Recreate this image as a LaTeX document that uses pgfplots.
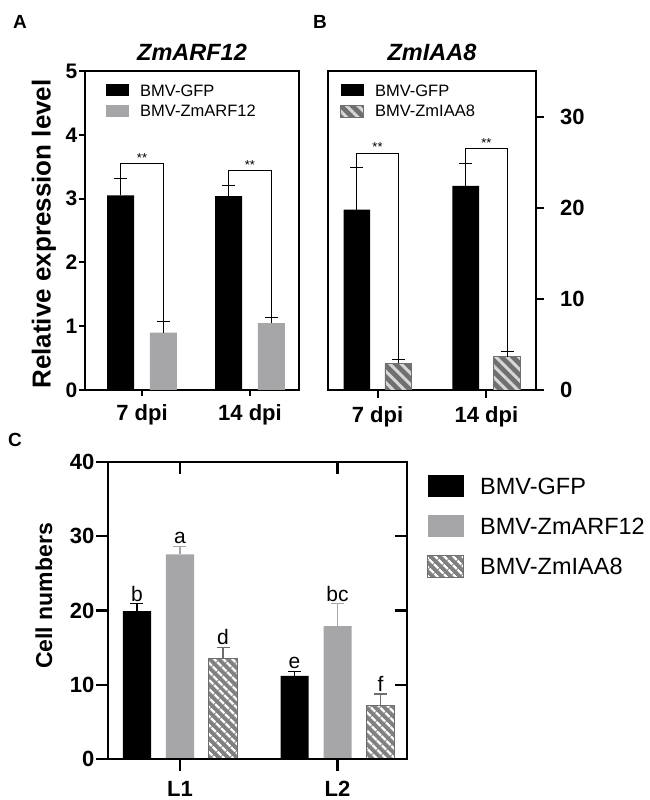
\documentclass[border=0pt]{standalone}
\usepackage{pgfplots}
\pgfplotsset{compat=1.18}
\usepackage{fontspec}
\setmainfont{Liberation Sans}
\usetikzlibrary{patterns.meta}
\definecolor{bargray}{RGB}{166,166,169}
\definecolor{hatchC}{RGB}{128,128,128}
\definecolor{hatchCedge}{RGB}{110,110,110}
\definecolor{hatchB}{RGB}{112,112,112}
\definecolor{stripeB}{RGB}{215,215,215}
\newcommand{\fs}[1]{\fontsize{#1}{#1}\selectfont}
\pgfplotsset{
  base/.style={
    scale only axis,
    axis line style={line width=2pt},
    every tick/.style={black,line width=2pt},
    tick align=outside,
    major tick length=6pt,
    ymin=0,
    xtick={0,1},
    /pgf/number format/assume math mode=true,
    ticklabel style={font=\fs{21}\bfseries},
    yticklabel style={inner xsep=1.5pt},
    legend cell align=left,
  },
  swA/.style={legend image code/.code={\fill[##1] (0pt,-6pt) rectangle (23pt,6pt);}},
  swC/.style={legend image code/.code={\fill[##1] (0pt,-11pt) rectangle (36pt,11pt);}},
  eb/.style={error bars/.cd, y dir=plus, y explicit, error mark=-,
    error bar style={draw=#1,line width=1.1pt},
    error mark options={draw=#1,line width=1.1pt,mark size=6.5pt,rotate=90}},
}
\begin{document}
\begin{tikzpicture}[x=1pt,y=1pt]
\useasboundingbox (0,0) rectangle (650,800);
% panel letters and titles
\node[font=\fs{19}\bfseries] at (20,778) {A};
\node[font=\fs{19}\bfseries] at (320,778) {B};
\node[font=\fs{19}\bfseries] at (15,360) {C};
\node[font=\fs{23.5}\bfseries\itshape] at (192,748) {ZmARF12};
\node[font=\fs{23.5}\bfseries\itshape] at (432,748) {ZmIAA8};
\node[font=\fs{26}\bfseries, rotate=90] at (44,566) {Relative expression level};
\node[font=\fs{23}\bfseries, rotate=90] at (44,204) {Cell numbers};

% ---------------- Panel A
\begin{axis}[base, at={(85pt,410pt)}, anchor=south west, width=214pt, height=319pt,
  xmin=-0.528, xmax=1.454, ymax=5, ytick={0,1,2,3,4,5},
  xtick pos=left, ytick pos=left,
  xticklabels={7 dpi,14 dpi}, xticklabel style={font=\fs{22}\bfseries, yshift=-5pt},
  legend style={at={(axis description cs:0.098,0.959)}, anchor=north west, draw=none, fill=none,
    inner sep=0pt, font=\fs{16.5}, row sep=8.5pt, nodes={inner sep=0pt, text depth=0pt},
    /tikz/every odd column/.append style={column sep=11pt}},
]
\addplot[ybar, bar width=0.25, bar shift=0pt, fill=black, draw=none, swA, eb=black]
  coordinates {(-0.197,3.05) +- (0,0.26) (0.803,3.04) +- (0,0.17)};
\addlegendentry{BMV-GFP}
\addplot[ybar, bar width=0.25, bar shift=0pt, fill=bargray, draw=none, swA, eb=black]
  coordinates {(0.197,0.90) +- (0,0.17) (1.197,1.05) +- (0,0.09)};
\addlegendentry{BMV-ZmARF12}
\addplot[black, line width=1pt, forget plot] coordinates {(-0.197,3.31) (-0.197,3.55) (0.197,3.55) (0.197,1.07)};
\addplot[black, line width=1pt, forget plot] coordinates {(0.803,3.21) (0.803,3.44) (1.197,3.44) (1.197,1.14)};
\node[font=\fs{13}, anchor=south, inner sep=1pt] at (axis cs:0,3.55) {**};
\node[font=\fs{13}, anchor=south, inner sep=1pt] at (axis cs:1,3.44) {**};
\end{axis}

% ---------------- Panel B
\begin{axis}[base, at={(328pt,410pt)}, anchor=south west, width=208pt, height=319pt,
  xmin=-0.455, xmax=1.455, ymax=35, ytick={0,10,20,30},
  xtick pos=left, ytick pos=right, yticklabel pos=right, major tick length=8pt,
  yticklabel style={inner xsep=0pt, xshift=16pt}, ticklabel style={font=\fs{22}\bfseries},
  xticklabels={7 dpi,14 dpi}, xticklabel style={yshift=-5pt},
  legend style={at={(axis description cs:0.058,0.959)}, anchor=north west, draw=none, fill=none,
    inner sep=0pt, font=\fs{16.5}, row sep=8.5pt, nodes={inner sep=0pt, text depth=0pt},
    /tikz/every odd column/.append style={column sep=11pt}},
]
\addplot[ybar, bar width=0.245, bar shift=0pt, fill=black, draw=none, swA, eb=black]
  coordinates {(-0.19,19.8) +- (0,4.6) (0.81,22.4) +- (0,2.45)};
\addlegendentry{BMV-GFP}
\addplot[ybar, bar width=0.245, bar shift=0pt, fill=hatchB, draw=hatchB, line width=0.8pt,
  postaction={pattern={Lines[angle=-45,distance=8pt,line width=3pt]}, pattern color=stripeB},
  swA, eb=black]
  coordinates {(0.19,2.92) +- (0,0.45) (1.19,3.65) +- (0,0.55)};
\addlegendentry{BMV-ZmIAA8}
\addplot[black, line width=1pt, forget plot] coordinates {(-0.19,24.4) (-0.19,26.0) (0.19,26.0) (0.19,3.37)};
\addplot[black, line width=1pt, forget plot] coordinates {(0.81,24.85) (0.81,26.45) (1.19,26.45) (1.19,4.2)};
\node[font=\fs{13}, anchor=south, inner sep=1pt] at (axis cs:0,26.0) {**};
\node[font=\fs{13}, anchor=south, inner sep=1pt] at (axis cs:1,26.45) {**};
\end{axis}

% ---------------- Panel C
\begin{axis}[base, at={(108pt,41pt)}, anchor=south west, width=299pt, height=297pt,
  axis line style={line width=2.4pt}, every tick/.style={black,line width=2.4pt}, major tick length=12pt,
  xmin=-0.457, xmax=1.441, ymax=40, ytick={0,10,20,30,40},
  xtick pos=left, ytick pos=left, xticklabels={L1,L2},
  ticklabel style={font=\fs{22}\bfseries}, xticklabel style={yshift=-7pt},
  legend style={at={(axis description cs:1.067,0.956)}, anchor=north west, draw=none, fill=none,
    inner sep=0pt, font=\fs{23.5}, row sep=18pt, nodes={inner sep=0pt, text depth=0pt},
    /tikz/every odd column/.append style={column sep=16pt}},
]
\addplot[ybar, bar width=0.178, bar shift=0pt, fill=black, draw=none, swC, eb=black]
  coordinates {(-0.273,19.9) +- (0,1.0) (0.727,11.2) +- (0,0.62)};
\addlegendentry{BMV-GFP}
\addplot[ybar, bar width=0.178, bar shift=0pt, fill=bargray, draw=none, swC, eb=bargray]
  coordinates {(0,27.55) +- (0,1.12) (1,17.9) +- (0,3.0)};
\addlegendentry{BMV-ZmARF12}
\addplot[ybar, bar width=0.178, bar shift=0pt, fill=hatchC, draw=hatchCedge, line width=1pt,
  postaction={pattern={Lines[angle=-45,distance=6.5pt,line width=2.4pt]}, pattern color=white},
  swC, eb=hatchCedge]
  coordinates {(0.273,13.57) +- (0,1.5) (1.273,7.2) +- (0,1.56)};
\addlegendentry{BMV-ZmIAA8}
\node[font=\fs{21}, anchor=south, inner sep=2pt] at (axis cs:-0.273,20.9) {b};
\node[font=\fs{21}, anchor=south, inner sep=2pt] at (axis cs:0,28.67) {a};
\node[font=\fs{21}, anchor=south, inner sep=2pt] at (axis cs:0.273,15.07) {d};
\node[font=\fs{21}, anchor=south, inner sep=2pt] at (axis cs:0.727,11.82) {e};
\node[font=\fs{21}, anchor=south, inner sep=2pt] at (axis cs:1,20.9) {bc};
\node[font=\fs{21}, anchor=south, inner sep=2pt] at (axis cs:1.273,8.76) {f};
\end{axis}
\begin{axis}[scale only axis, at={(108pt,41pt)}, anchor=south west, width=299pt, height=297pt,
  axis line style={line width=2.4pt}, every tick/.style={black,line width=2.4pt}, major tick length=12pt,
  tick align=inside, xmin=-0.457, xmax=1.441, ymin=0, ymax=40, xtick={0,1}, ytick={10,20,30},
  xtick pos=right, ytick pos=right, xticklabels={}, yticklabels={}]
\addplot[draw=none] coordinates {(0,0)};
\end{axis}
\end{tikzpicture}
\end{document}
